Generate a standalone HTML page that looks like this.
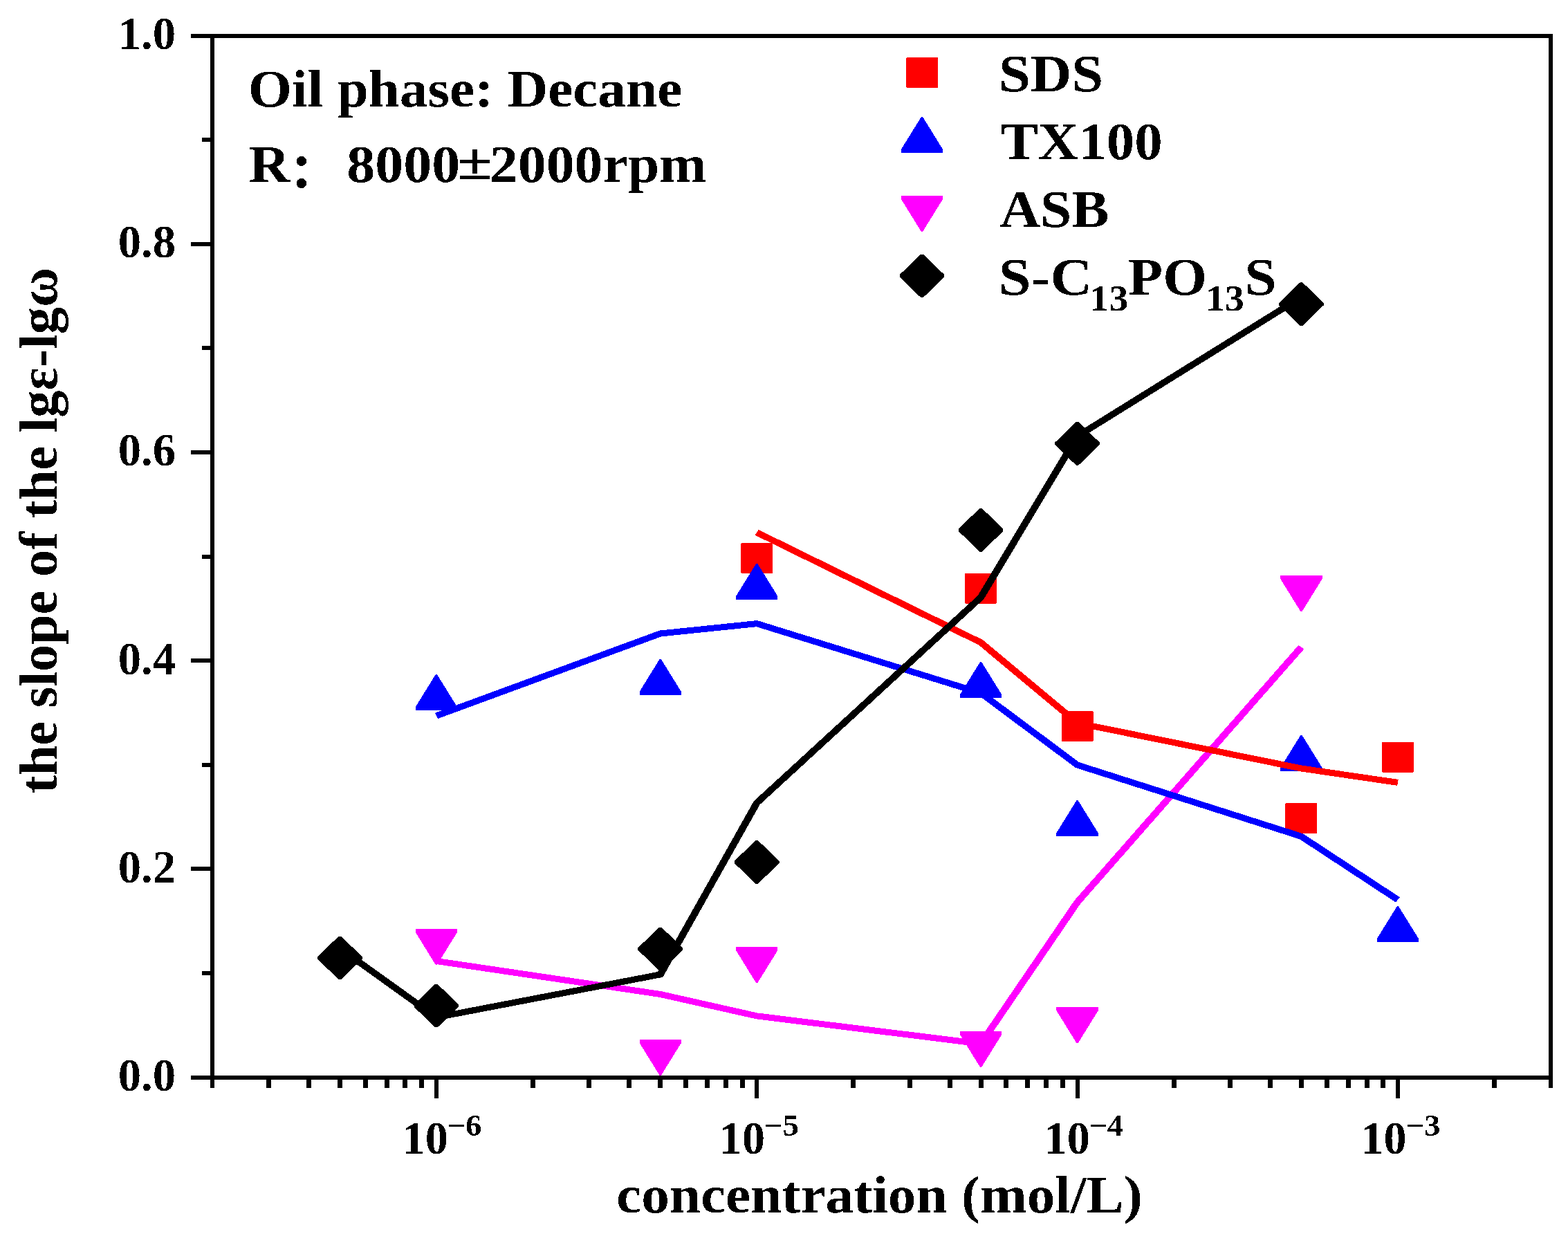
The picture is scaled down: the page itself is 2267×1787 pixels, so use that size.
<!DOCTYPE html>
<html lang="en"><head><meta charset="utf-8"><title>the slope of the lgε-lgω vs concentration (mol/L)</title>
<style>
html,body{margin:0;padding:0;background:#fff;overflow:hidden}
svg{display:block}
text{filter:url(#bw);font-family:"Liberation Serif","Noto Serif CJK SC","Noto Sans CJK SC",serif;font-weight:bold;fill:#000;font-kerning:none;white-space:pre}
.tk{font-size:66.7px}
.sup{font-size:44px}
.an{font-size:76px}
.lg{font-size:76px}
.sub{font-size:52px}
</style></head><body>
<svg width="2267" height="1787" viewBox="0 0 2267 1787">
<rect x="0" y="0" width="2267" height="1787" fill="#fff"/>
<defs><filter id="bw" x="-10%" y="-20%" width="120%" height="140%" color-interpolation-filters="sRGB"><feComponentTransfer><feFuncA type="discrete" tableValues="0 1"/></feComponentTransfer></filter></defs>
<g id="markers" shape-rendering="crispEdges">
<polygon points="1072.22,784.8 1116.22,784.8 1117.22,785.8 1117.22,827.8 1116.22,828.8 1072.22,828.8 1071.22,827.8 1071.22,785.8" fill="#ff0000"/>
<polygon points="1396.09,828.9 1440.09,828.9 1441.09,829.9 1441.09,871.9 1440.09,872.9 1396.09,872.9 1395.09,871.9 1395.09,829.9" fill="#ff0000"/>
<polygon points="1535.57,1028 1579.57,1028 1580.57,1029 1580.57,1071 1579.57,1072 1535.57,1072 1534.57,1071 1534.57,1029" fill="#ff0000"/>
<polygon points="1859.44,1161 1903.44,1161 1904.44,1162 1904.44,1204 1903.44,1205 1859.44,1205 1858.44,1204 1858.44,1162" fill="#ff0000"/>
<polygon points="1998.92,1072.9 2042.92,1072.9 2043.92,1073.9 2043.92,1115.9 2042.92,1116.9 1998.92,1116.9 1997.92,1115.9 1997.92,1073.9" fill="#ff0000"/>
<polygon points="629.87,975 631.87,975 661.07,1022.2 661.07,1027 600.67,1027 600.67,1022.2" fill="#0000ff"/>
<polygon points="953.74,952.9 955.74,952.9 984.94,1000.1 984.94,1004.9 924.54,1004.9 924.54,1000.1" fill="#0000ff"/>
<polygon points="1093.22,814.8 1095.22,814.8 1124.42,862 1124.42,866.8 1064.02,866.8 1064.02,862" fill="#0000ff"/>
<polygon points="1417.09,957 1419.09,957 1448.29,1004.2 1448.29,1009 1387.89,1009 1387.89,1004.2" fill="#0000ff"/>
<polygon points="1556.57,1157.1 1558.57,1157.1 1587.77,1204.3 1587.77,1209.1 1527.37,1209.1 1527.37,1204.3" fill="#0000ff"/>
<polygon points="1880.44,1062.8 1882.44,1062.8 1911.64,1110 1911.64,1114.8 1851.24,1114.8 1851.24,1110" fill="#0000ff"/>
<polygon points="2019.92,1310.1 2021.92,1310.1 2051.12,1357.3 2051.12,1362.1 1990.72,1362.1 1990.72,1357.3" fill="#0000ff"/>
<polygon points="600.67,1343 661.07,1343 661.07,1347.8 631.87,1395 629.87,1395 600.67,1347.8" fill="#ff00ff"/>
<polygon points="924.54,1503 984.94,1503 984.94,1507.8 955.74,1555 953.74,1555 924.54,1507.8" fill="#ff00ff"/>
<polygon points="1064.02,1369.2 1124.42,1369.2 1124.42,1374 1095.22,1421.2 1093.22,1421.2 1064.02,1374" fill="#ff00ff"/>
<polygon points="1387.89,1491 1448.29,1491 1448.29,1495.8 1419.09,1543 1417.09,1543 1387.89,1495.8" fill="#ff00ff"/>
<polygon points="1527.37,1456.3 1587.77,1456.3 1587.77,1461.1 1558.57,1508.3 1556.57,1508.3 1527.37,1461.1" fill="#ff00ff"/>
<polygon points="1851.24,832.2 1911.64,832.2 1911.64,837 1882.44,884.2 1880.44,884.2 1851.24,837" fill="#ff00ff"/>
<polygon points="489.59,1353.7 493.19,1353.7 523.69,1383.2 523.69,1386.6 493.19,1416.1 489.59,1416.1 459.09,1386.6 459.09,1383.2" fill="#000000"/>
<polygon points="629.07,1422.9 632.67,1422.9 663.17,1452.4 663.17,1455.8 632.67,1485.3 629.07,1485.3 598.57,1455.8 598.57,1452.4" fill="#000000"/>
<polygon points="952.94,1340.8 956.54,1340.8 987.04,1370.3 987.04,1373.7 956.54,1403.2 952.94,1403.2 922.44,1373.7 922.44,1370.3" fill="#000000"/>
<polygon points="1092.42,1215.2 1096.02,1215.2 1126.52,1244.7 1126.52,1248.1 1096.02,1277.6 1092.42,1277.6 1061.92,1248.1 1061.92,1244.7" fill="#000000"/>
<polygon points="1416.29,735.1 1419.89,735.1 1450.39,764.6 1450.39,768 1419.89,797.5 1416.29,797.5 1385.79,768 1385.79,764.6" fill="#000000"/>
<polygon points="1555.77,610.2 1559.37,610.2 1589.87,639.7 1589.87,643.1 1559.37,672.6 1555.77,672.6 1525.27,643.1 1525.27,639.7" fill="#000000"/>
<polygon points="1879.64,408.4 1883.24,408.4 1913.74,437.9 1913.74,441.3 1883.24,470.8 1879.64,470.8 1849.14,441.3 1849.14,437.9" fill="#000000"/>
</g>
<g id="lines" shape-rendering="crispEdges">
<polyline transform="scale(1.15 1)" points="548.58,1389.5 830.21,1437.5 951.5,1468.9 1233.12,1509 1354.41,1304.5 1636.04,935.5" fill="none" stroke="#ff00ff" stroke-width="9" stroke-linejoin="round" stroke-linecap="butt"/>
<polyline transform="scale(1.15 1)" points="951.5,769.8 1233.12,928.9 1354.41,1045.3 1636.04,1111 1757.33,1131.4" fill="none" stroke="#ff0000" stroke-width="9" stroke-linejoin="round" stroke-linecap="butt"/>
<polyline transform="scale(1.15 1)" points="548.58,1035 830.21,916 951.5,901.6 1233.12,1002 1354.41,1106 1636.04,1209.3 1757.33,1300.9" fill="none" stroke="#0000ff" stroke-width="9" stroke-linejoin="round" stroke-linecap="butt"/>
<polyline transform="scale(1.15 1)" points="427.29,1371 548.58,1471 830.21,1408.9 951.5,1160.8 1233.12,863.6 1354.41,630.8 1636.04,429.5" fill="none" stroke="#000000" stroke-width="9" stroke-linejoin="round" stroke-linecap="butt"/>
</g>
<g id="axes" fill="#000" shape-rendering="crispEdges">
<rect x="304" y="49" width="1941" height="6"/>
<rect x="304" y="1555" width="1941" height="6"/>
<rect x="304" y="49" width="6" height="1512"/>
<rect x="2239" y="49" width="6" height="1512"/>
<rect x="276" y="1555" width="29" height="6"/>
<rect x="292" y="1404" width="13" height="6"/>
<rect x="276" y="1253" width="29" height="6"/>
<rect x="292" y="1103" width="13" height="6"/>
<rect x="276" y="952" width="29" height="6"/>
<rect x="292" y="802" width="13" height="6"/>
<rect x="276" y="651" width="29" height="6"/>
<rect x="292" y="500" width="13" height="6"/>
<rect x="276" y="350" width="29" height="6"/>
<rect x="292" y="199" width="13" height="6"/>
<rect x="276" y="49" width="29" height="6"/>
<rect x="304" y="1560" width="6" height="13"/>
<rect x="385" y="1560" width="7" height="13"/>
<rect x="443" y="1560" width="7" height="13"/>
<rect x="488" y="1560" width="7" height="13"/>
<rect x="525" y="1560" width="7" height="13"/>
<rect x="556" y="1560" width="7" height="13"/>
<rect x="582" y="1560" width="7" height="13"/>
<rect x="606" y="1560" width="7" height="13"/>
<rect x="628" y="1560" width="6" height="28"/>
<rect x="767" y="1560" width="7" height="13"/>
<rect x="848" y="1560" width="7" height="13"/>
<rect x="906" y="1560" width="7" height="13"/>
<rect x="951" y="1560" width="7" height="13"/>
<rect x="988" y="1560" width="7" height="13"/>
<rect x="1019" y="1560" width="7" height="13"/>
<rect x="1046" y="1560" width="7" height="13"/>
<rect x="1070" y="1560" width="7" height="13"/>
<rect x="1091" y="1560" width="6" height="28"/>
<rect x="1230" y="1560" width="7" height="13"/>
<rect x="1312" y="1560" width="7" height="13"/>
<rect x="1370" y="1560" width="7" height="13"/>
<rect x="1415" y="1560" width="7" height="13"/>
<rect x="1451" y="1560" width="7" height="13"/>
<rect x="1482" y="1560" width="7" height="13"/>
<rect x="1509" y="1560" width="7" height="13"/>
<rect x="1533" y="1560" width="7" height="13"/>
<rect x="1555" y="1560" width="6" height="28"/>
<rect x="1694" y="1560" width="7" height="13"/>
<rect x="1775" y="1560" width="7" height="13"/>
<rect x="1833" y="1560" width="7" height="13"/>
<rect x="1878" y="1560" width="7" height="13"/>
<rect x="1915" y="1560" width="7" height="13"/>
<rect x="1946" y="1560" width="7" height="13"/>
<rect x="1973" y="1560" width="7" height="13"/>
<rect x="1996" y="1560" width="7" height="13"/>
<rect x="2018" y="1560" width="6" height="28"/>
<rect x="2157" y="1560" width="7" height="13"/>
<rect x="2239" y="1560" width="6" height="13"/>
</g>
<g id="ylabels" class="tk" text-anchor="end">
<text x="254" y="1577">0.0</text>
<text x="254" y="1275.8">0.2</text>
<text x="254" y="974.6">0.4</text>
<text x="254" y="673.4">0.6</text>
<text x="254" y="372.2">0.8</text>
<text x="254" y="71">1.0</text>
</g>
<g id="xlabels" class="tk">
<text y="1668"><tspan x="581.6" textLength="66.23" lengthAdjust="spacingAndGlyphs">10</tspan><tspan class="sup" x="646.43" dy="-26" textLength="50.04" lengthAdjust="spacingAndGlyphs">−6</tspan></text>
<text y="1668"><tspan x="1039.8" textLength="66.23" lengthAdjust="spacingAndGlyphs">10</tspan><tspan class="sup" x="1104.62" dy="-26" textLength="50.41" lengthAdjust="spacingAndGlyphs">−5</tspan></text>
<text y="1668"><tspan x="1509.6" textLength="66.23" lengthAdjust="spacingAndGlyphs">10</tspan><tspan class="sup" x="1574.46" dy="-26" textLength="49.5" lengthAdjust="spacingAndGlyphs">−4</tspan></text>
<text y="1668"><tspan x="1967.5" textLength="66.23" lengthAdjust="spacingAndGlyphs">10</tspan><tspan class="sup" x="2032.32" dy="-26" textLength="50.29" lengthAdjust="spacingAndGlyphs">−3</tspan></text>
</g>
<text id="xtitle" class="an" x="891.12" y="1753" textLength="760.65" lengthAdjust="spacingAndGlyphs">concentration (mol/L)</text>
<text id="ytitle" class="an" transform="translate(82 1147.26) rotate(-90)" x="0" y="0" textLength="760.4" lengthAdjust="spacingAndGlyphs" style="font-size:78px">the slope of the lgε-lgω</text>
<text id="ann1" class="an" x="358.73" y="154" textLength="627.57" lengthAdjust="spacingAndGlyphs">Oil phase: Decane</text>
<text id="ann2" class="an" y="263"><tspan x="359.49" textLength="59.69" lengthAdjust="spacingAndGlyphs">R</tspan><tspan x="414.5" dy="10" style="font-size:80px">：</tspan><tspan x="492" dy="-10"> </tspan><tspan x="501.18" textLength="164.05" lengthAdjust="spacingAndGlyphs">8000</tspan><tspan x="660.99" dy="-4.5" textLength="51.07" lengthAdjust="spacingAndGlyphs">±</tspan><tspan x="707.97" dy="4.5" textLength="313.43" lengthAdjust="spacingAndGlyphs">2000rpm</tspan></text>
<g id="legend" shape-rendering="crispEdges">
<polygon points="1311,83 1355,83 1356,84 1356,126 1355,127 1311,127 1310,126 1310,84" fill="#ff0000"/>
<polygon points="1332,168.9 1334,168.9 1363.2,216.1 1363.2,220.9 1302.8,220.9 1302.8,216.1" fill="#0000ff"/>
<polygon points="1302.8,283 1363.2,283 1363.2,287.8 1334,335 1332,335 1302.8,287.8" fill="#ff00ff"/>
<polygon points="1331.2,367.7 1334.8,367.7 1365.3,397.2 1365.3,400.6 1334.8,430.1 1331.2,430.1 1300.7,400.6 1300.7,397.2" fill="#000000"/>
</g>
<g id="legend-text">
<text class="lg" x="1443.91" y="132" textLength="151.19" lengthAdjust="spacingAndGlyphs">SDS</text>
<text class="lg" x="1446.73" y="229.5" textLength="233.95" lengthAdjust="spacingAndGlyphs">TX100</text>
<text class="lg" x="1445.41" y="327.5" textLength="158.16" lengthAdjust="spacingAndGlyphs">ASB</text>
<text class="lg" y="425.5"><tspan x="1443.84" dy="0" textLength="135.15" lengthAdjust="spacingAndGlyphs">S-C</tspan><tspan x="1575.53" dy="23" textLength="55.77" lengthAdjust="spacingAndGlyphs" class="sub">13</tspan><tspan x="1631.1" dy="-23" textLength="113.91" lengthAdjust="spacingAndGlyphs">PO</tspan><tspan x="1743.14" dy="23" textLength="55.66" lengthAdjust="spacingAndGlyphs" class="sub">13</tspan><tspan x="1799.48" dy="-23" textLength="46.14" lengthAdjust="spacingAndGlyphs">S</tspan></text>
</g>
</svg>
</body></html>
